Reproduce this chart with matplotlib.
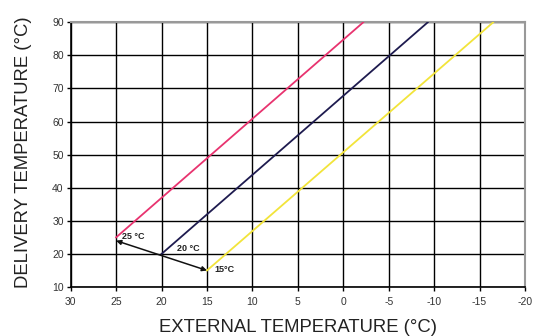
import numpy as np
import matplotlib.pyplot as plt

plt.rcParams['font.family'] = ['Liberation Sans', 'DejaVu Sans']

# heating curves: (external temp, delivery temp) at start and end
courbe_x = {'25': [25, -2.2], '20': [20, -9.3], '15': [15, -16.5]}
courbe_y = {'25': [25, 90], '20': [20, 90], '15': [15, 90]}
couleurs = {'25': '#e8336f', '20': '#1e1b4f', '15': '#f2e43a'}

# arrow between the curve starts
fleche_x = [25, 15]
fleche_y = [24, 15]

etiquettes = ['25 °C', '20 °C', '15°C']
etiq_x = [24.3, 18.3, 14.2]
etiq_y = [25.3, 21.6, 15.2]

xticks = [30, 25, 20, 15, 10, 5, 0, -5, -10, -15, -20]
yticks = [10, 20, 30, 40, 50, 60, 70, 80, 90]

fig = plt.figure(figsize=(5.4, 3.36), dpi=100)
ax = fig.add_axes([0.1309, 0.1458, 0.8413, 0.7878])

for k in courbe_x:
    ax.plot(courbe_x[k], courbe_y[k], c=couleurs[k], lw=1.3, zorder=3)

ax.annotate('', xy=(fleche_x[1], fleche_y[1]), xytext=(fleche_x[0], fleche_y[0]),
            arrowprops=dict(arrowstyle='<|-|>', color='#111111', lw=1.1,
                            mutation_scale=7, shrinkA=0, shrinkB=0), zorder=4)

for t, x, y in zip(etiquettes, etiq_x, etiq_y):
    ax.text(x, y, t, fontsize=6.5, fontweight='bold', color='#222222',
            ha='left', va='center', zorder=5)

ax.set_xlim(30, -20)
ax.set_ylim(10, 90)
ax.set_xticks(xticks)
ax.set_yticks(yticks)
ax.set_xticklabels([str(v) for v in xticks])
ax.grid(True, color='black', lw=1.0)
ax.set_axisbelow(True)

ax.spines['top'].set_color('#999999')
ax.spines['right'].set_color('#999999')
ax.spines['top'].set_linewidth(1.5)
ax.spines['right'].set_linewidth(1.5)
ax.spines['left'].set_linewidth(1.2)
ax.spines['bottom'].set_linewidth(1.2)

ax.tick_params(axis='both', labelsize=7.5, colors='black', labelcolor='#333333',
               length=3, width=1, pad=2)
ax.tick_params(axis='x', pad=4)

fig.text(0.043, 0.548, 'DELIVERY TEMPERATURE (°C)', fontsize=13.3, color='#222222',
         rotation=90, ha='center', va='center')
fig.text(0.551, 0.012, 'EXTERNAL TEMPERATURE (°C)', fontsize=13.3, color='#222222',
         ha='center', va='baseline')

plt.savefig('out.png', dpi=100)
